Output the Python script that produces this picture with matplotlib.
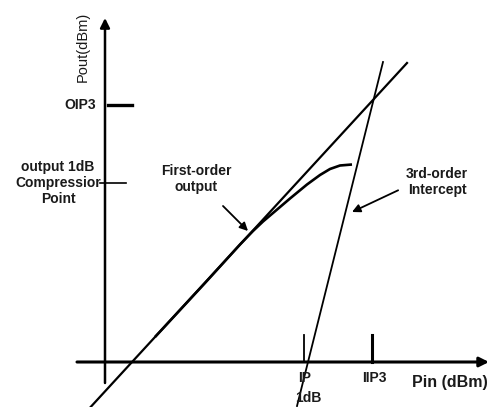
import matplotlib
matplotlib.use("Agg")
import matplotlib.pyplot as plt

plt.rcParams['font.family'] = ['Liberation Sans', 'DejaVu Sans']

# --- data (arbitrary dBm units) ---
pin_first = [-1.5, 30.2]
pout_first = [-4.57, 29.9]

pin_third = [19.2, 27.8]
pout_third = [-4.4, 30.0]

pin_comp = [5.0, 10.0, 13.5, 14.8, 15.8, 16.8, 18.5, 20.2, 21.5, 22.5, 23.5, 24.7]
pout_comp = [2.5, 7.9, 11.75, 13.1, 14.05, 14.9, 16.35, 17.75, 18.7, 19.3, 19.65, 19.75]

ip1db = 19.9
iip3 = 26.7
oip3 = 25.7
op1db = 17.9

fig = plt.figure(figsize=(4.87, 4.07), dpi=100)
ax = fig.add_axes([0, 0, 1, 1])
ax.set_xlim(-10.5, 38.2)
ax.set_ylim(-4.5, 36.2)
ax.axis('off')

# axes with arrows
ax.annotate('', xy=(38.4, 0), xytext=(-2.8, 0), annotation_clip=False,
            arrowprops=dict(arrowstyle='-|>', color='black', lw=2.2,
                            mutation_scale=14, shrinkA=0, shrinkB=0))
ax.annotate('', xy=(0, 34.4), xytext=(0, -2.1), annotation_clip=False,
            arrowprops=dict(arrowstyle='-|>', color='black', lw=1.8,
                            mutation_scale=14, shrinkA=0, shrinkB=0))

# curves
ax.plot(pin_first, pout_first, color='black', lw=1.6)
ax.plot(pin_third, pout_third, color='black', lw=1.3)
ax.plot(pin_comp, pout_comp, color='black', lw=1.9, solid_capstyle='butt',
        solid_joinstyle='round')

# ticks
ax.plot([ip1db, ip1db], [0, 2.7], color='black', lw=1.3)
ax.plot([iip3, iip3], [0, 2.7], color='black', lw=2.2)
ax.plot([0.3, 2.7], [oip3, oip3], color='black', lw=2.4)
ax.plot([-0.5, 2.1], [op1db, op1db], color='black', lw=1.2)

fs = 10
kw = dict(fontsize=fs, color='#1a1a1a', fontweight='bold')
ax.text(-0.9, oip3, 'OIP3', ha='right', va='center', **kw)
ax.text(-4.7, op1db, 'output 1dB\nCompressior\nPoint', ha='center', va='center',
        linespacing=1.15, **kw)
ax.text(-2.2, 35.0, 'Pout(dBm)', rotation=90, ha='center', va='top',
        fontsize=10.5, color='#1a1a1a')
ax.text(ip1db + 0.1, -1.55, 'IP', ha='center', va='center', **kw)
ax.text(ip1db + 0.4, -3.65, '1dB', ha='center', va='center', **kw)
ax.text(iip3 + 0.2, -1.55, 'IIP3', ha='center', va='center', **kw)
ax.text(30.7, -2.1, 'Pin (dBm)', ha='left', va='center',
        fontsize=11.5, color='#1a1a1a', fontweight='bold')

ax.annotate('First-order\noutput', xy=(14.3, 13.1), xytext=(9.1, 18.3),
            ha='center', va='center', linespacing=1.25, annotation_clip=False,
            arrowprops=dict(arrowstyle='-|>', color='black', lw=1.3,
                            mutation_scale=12, shrinkA=9, shrinkB=0), **kw)
ax.annotate('3rd-order\nIntercept', xy=(24.7, 15.0), xytext=(33.2, 18.0),
            ha='center', va='center', linespacing=1.25, annotation_clip=False,
            arrowprops=dict(arrowstyle='-|>', color='black', lw=1.3,
                            mutation_scale=12, shrinkA=4, shrinkB=0,
                            relpos=(0.0, 0.35)), **kw)

fig.savefig('out.png', dpi=100)
